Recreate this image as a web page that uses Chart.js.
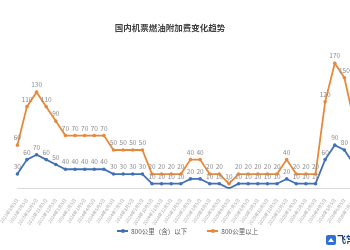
<!DOCTYPE html>
<html>
<head>
<meta charset="utf-8">
<script src="https://cdn.jsdelivr.net/npm/chart.js@4.4.1/dist/chart.umd.min.js"></script>
<style>
  html, body { margin: 0; padding: 0; width: 350px; height: 250px; overflow: hidden; background: #fff; font-family: "Noto Sans CJK SC", sans-serif; }
  #wrap { position: absolute; left: 0; top: 0; width: 362px; height: 250px; }
  #title { position: absolute; top: 21px; left: 0; width: 340px; text-align: center; font-size: 8.5px; font-weight: bold; color: #404040; }
  #legend { position: absolute; top: 226px; left: 117px; display: flex; align-items: center; white-space: nowrap; font-size: 6.5px; color: #595959; }
  .item { display: flex; align-items: center; margin-right: 20px; }
  .sw { position: relative; width: 11px; height: 1.5px; margin-right: 3px; }
  .sw i { position: absolute; left: 3.5px; top: -1.5px; width: 4px; height: 4px; border-radius: 50%; }
  #logo { position: absolute; left: 326px; top: 233px; display: flex; align-items: center; white-space: nowrap; }
  #logo b { display: inline-block; width: 10px; height: 10px; border-radius: 2px; background: #2f6fd6; margin-right: 1px; position: relative; }
  #logo b:after { content: ""; position: absolute; left: 2px; top: 3px; border-left: 3px solid transparent; border-right: 3px solid transparent; border-bottom: 4px solid #fff; }
  #logo span { font-size: 9px; font-weight: bold; color: #1d3f7a; }
</style>
</head>
<body>
<div id="wrap"><canvas id="chart"></canvas></div>
<div id="title">国内机票燃油附加费变化趋势</div>
<div id="legend"></div>
<div id="logo"><b></b><span>飞常准</span></div>
<script>
// 数据
const dates = [
  '2023年8月5日', '2023年9月5日', '2023年10月5日', '2023年11月5日', '2023年12月5日',
  '2024年1月5日', '2024年2月5日', '2024年3月5日', '2024年4月5日', '2024年5月5日',
  '2024年6月5日', '2024年7月5日', '2024年8月5日', '2024年9月5日', '2024年10月5日',
  '2024年11月5日', '2024年12月5日', '2025年1月5日', '2025年2月5日', '2025年3月5日',
  '2025年4月5日', '2025年5月5日', '2025年6月5日', '2025年7月5日', '2025年8月5日',
  '2025年9月5日', '2025年10月5日', '2025年11月5日', '2025年12月5日', '2026年1月5日',
  '2026年2月5日', '2026年3月5日', '2026年4月5日', '2026年5月5日', '2026年6月5日',
  '2026年7月5日'
];
const below800 = [30, 60, 70, 60, 50, 40, 40, 40, 40, 40, 30, 30, 30, 30, 10, 10, 10, 10, 20, 20,
  10, 10, 0, 10, 10, 10, 10, 10, 20, 10, 10, 10, 60, 90, 80, 50];
const above800 = [60, 110, 130, 110, 90, 70, 70, 70, 70, 70, 50, 50, 50, 50, 20, 20, 20, 20, 40, 40,
  20, 20, 10, 20, 20, 20, 20, 20, 40, 20, 20, 20, 120, 170, 150, 90];

const blue = '#4270b8';
const orange = '#e8893a';

// 数值标签
const valueLabels = {
  id: 'valueLabels',
  afterDatasetsDraw(chart) {
    const ctx = chart.ctx;
    ctx.save();
    ctx.font = '6.5px "Noto Sans CJK SC", sans-serif';
    ctx.fillStyle = '#8c8c8c';
    ctx.textAlign = 'center';
    ctx.textBaseline = 'bottom';
    chart.data.datasets.forEach((ds, i) => {
      chart.getDatasetMeta(i).data.forEach((pt, j) => {
        ctx.fillText(ds.data[j], pt.x, pt.y - 4);
      });
    });
    ctx.restore();
  }
};

const ctx = document.getElementById('chart').getContext('2d');
const chart = new Chart(ctx, {
  type: 'line',
  data: {
    labels: dates,
    datasets: [
      { label: '800公里（含）以下', data: below800, borderColor: blue, backgroundColor: blue },
      { label: '800公里以上', data: above800, borderColor: orange, backgroundColor: orange }
    ]
  },
  options: {
    responsive: true,
    maintainAspectRatio: false,
    animation: false,
    layout: { padding: { left: 4, right: 8, top: 44, bottom: 23 } },
    elements: {
      line: { borderWidth: 1.8, tension: 0, fill: false },
      point: { radius: 1.8, borderWidth: 0, hoverRadius: 2 }
    },
    scales: {
      x: {
        offset: false,
        grid: { display: false },
        border: { color: '#d9d9d9' },
        ticks: {
          autoSkip: false, minRotation: 55, maxRotation: 55, padding: 1,
          color: '#a6a6a6', font: { size: 4.5, family: '"Noto Sans CJK SC", sans-serif' }
        }
      },
      y: { stacked: true, min: 0, max: 300, display: false }
    },
    plugins: { legend: { display: false }, title: { display: false }, tooltip: { enabled: false } }
  },
  plugins: [valueLabels]
});

// 图例
const legend = document.getElementById('legend');
chart.data.datasets.forEach(ds => {
  const item = document.createElement('div');
  item.className = 'item';
  item.innerHTML = '<span class="sw" style="background:' + ds.borderColor + '"><i style="background:' + ds.borderColor + '"></i></span>' + ds.label;
  legend.appendChild(item);
});
</script>
</body>
</html>
